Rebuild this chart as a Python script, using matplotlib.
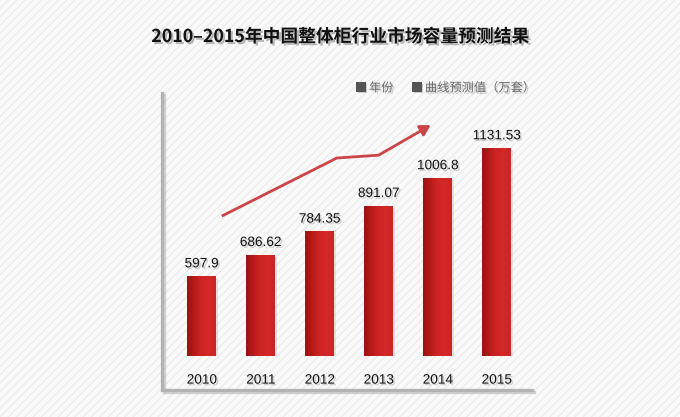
import numpy as np
import matplotlib
matplotlib.use("Agg")
from matplotlib import pyplot as plt
from matplotlib.patches import Rectangle, FancyArrowPatch
from matplotlib.lines import Line2D
import matplotlib.patheffects as pe

# Data
years = ["2010", "2011", "2012", "2013", "2014", "2015"]
values = [597.9, 686.62, 784.35, 891.07, 1006.8, 1131.53]
value_labels = ["597.9", "686.62", "784.35", "891.07", "1006.8", "1131.53"]

# forecast trend curve (category position, value), drawn as an arrow
trend_x = [0.34, 2.29, 3.0, 3.88]
trend_y = [847, 1089, 1101, 1226]

title = "2010–2015年中国整体柜行业市场容量预测结果"
legend_items = ["年份", "曲线预测值（万套）"]

W, H = 680, 417
plt.rcParams["font.family"] = ["Noto Sans CJK SC", "DejaVu Sans"]
plt.rcParams["hatch.linewidth"] = 1.0

fig = plt.figure(figsize=(W / 100, H / 100), dpi=100)
fig.patch.set_facecolor("#fafafa")

# striped background
bg = Rectangle((0, 0), 1, 1, transform=fig.transFigure, facecolor="#fafafa",
               edgecolor="#ececec", hatch="////", linewidth=0, zorder=-10)
fig.patches.append(bg)

def px_box(x0, y0, x1, y1):
    # pixel box (top-left origin) -> figure fraction rect
    return [x0 / W, 1 - y1 / H, (x1 - x0) / W, (y1 - y0) / H]

ax = fig.add_axes(px_box(162, 93, 532, 356))
ax.set_facecolor("none")
for s in ax.spines.values():
    s.set_visible(False)
ax.set_xticks([])
ax.set_yticks([])
ax.set_xlim(-0.673, 5.598)

shadow = [pe.withSimplePatchShadow(offset=(1.2, -1.2), shadow_rgbFace="#777777", alpha=0.35)]

x = np.arange(len(years))
bw = 0.49
bars = ax.bar(x, values, width=bw, color="#c42020", zorder=2)
ax.set_ylim(264, 1360)

# horizontal gradient on each bar
grad = np.linspace(0, 1, 64).reshape(1, -1)
cmap = matplotlib.colors.LinearSegmentedColormap.from_list(
    "barred", ["#9c1212", "#b81a1a", "#cf2424", "#d42828", "#cc2424"])
for b in bars:
    b.set_path_effects([pe.withSimplePatchShadow(offset=(1.5, -1.5), shadow_rgbFace="#999999", alpha=0.25), pe.Normal()])
    x0 = b.get_x()
    im = ax.imshow(grad, extent=(x0, x0 + b.get_width(), 264, b.get_height()),
                   aspect="auto", cmap=cmap, zorder=3)
    im.set_clip_path(b)

for xi, v, lab in zip(x, values, value_labels):
    ax.annotate(lab, (xi, v), xytext=(0, 4), textcoords="offset points",
                ha="center", va="bottom", fontsize=9.8, color="#111111",
                family=["Liberation Sans", "DejaVu Sans"], path_effects=shadow, zorder=5)

# year labels under bars
for xi, yr in zip(x, years):
    ax.annotate(yr, (xi, 264), xytext=(0, -17), textcoords="offset points",
                ha="center", va="center", fontsize=9.8, color="#111111",
                family=["Liberation Sans", "DejaVu Sans"], path_effects=shadow,
                annotation_clip=False, zorder=5)

# trend arrow
ax.plot(trend_x[:-1], trend_y[:-1], color="#cc4448", lw=2.0, solid_capstyle="butt",
        solid_joinstyle="miter", zorder=4)
arr = FancyArrowPatch((trend_x[-2], trend_y[-2]), (trend_x[-1], trend_y[-1]),
                      arrowstyle="-|>,head_length=6,head_width=3.5", color="#cc4448",
                      lw=2.0, shrinkA=0, shrinkB=0, zorder=4)
ax.add_patch(arr)

# decorative axis frame
line_fx = [162 / W, 162 / W, 532 / W]
line_fy = [1 - 93 / H, 1 - 390 / H, 1 - 390 / H]
frame = Line2D(line_fx, line_fy, transform=fig.transFigure, color="#b3b3b3", lw=2.4,
               solid_joinstyle="miter",
               path_effects=[pe.SimpleLineShadow(offset=(1.2, -1.2), shadow_color="#888888", alpha=0.35), pe.Normal()])
fig.lines.append(frame)

fig.text(0.5, 1 - 37 / H, title, ha="center", va="center", fontsize=12.8,
         fontweight="bold", color="#111111",
         path_effects=[pe.withSimplePatchShadow(offset=(1.5, -1.5), shadow_rgbFace="#555555", alpha=0.4)])

# legend
leg_pos = [355, 411]
for lx, name in zip(leg_pos, legend_items):
    fig.text(lx / W, 1 - 88 / H, "■", ha="left", va="center", fontsize=8.5,
             color="#555555", path_effects=shadow)
    fig.text((lx + 14) / W, 1 - 88 / H, name, ha="left", va="center", fontsize=8.8,
             color="#666666", path_effects=shadow)

fig.savefig("out.png", dpi=100, facecolor=fig.get_facecolor())
